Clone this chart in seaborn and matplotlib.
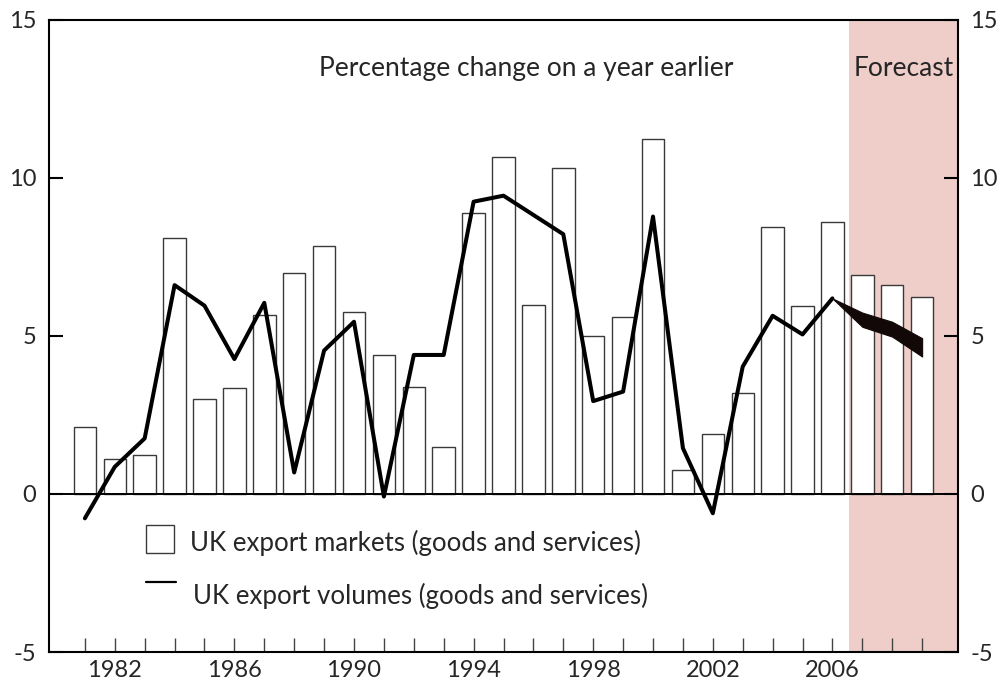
import matplotlib
matplotlib.use("Agg")
import matplotlib.pyplot as plt
from matplotlib.patches import Rectangle
import seaborn as sns
import pandas as pd

# data
years = list(range(1981, 2010))
markets = [2.13, 1.11, 1.22, 8.09, 3.02, 3.37, 5.66, 6.99, 7.86, 5.76,
           4.40, 3.38, 1.50, 8.88, 10.67, 5.97, 10.33, 5.00, 5.61, 11.22,
           0.76, 1.89, 3.19, 8.44, 5.95, 8.60, 6.93, 6.61, 6.24]
vol_years = list(range(1981, 2007))
volumes = [-0.77, 0.86, 1.76, 6.61, 5.96, 4.27, 6.05, 0.68, 4.54, 5.45,
           -0.08, 4.40, 4.40, 9.25, 9.44, 8.83, 8.22, 2.94, 3.24, 8.78,
           1.45, -0.61, 4.03, 5.64, 5.05, 6.19]
fc_years = [2006, 2007, 2008, 2009]
fc_upper = [6.19, 5.74, 5.45, 4.93]
fc_lower = [6.19, 5.29, 4.98, 4.35]
label_years = [1982, 1986, 1990, 1994, 1998, 2002, 2006]

df_bar = pd.DataFrame({"year": years, "markets": markets})
df_line = pd.DataFrame({"year": vol_years, "volumes": volumes})

sns.set_theme(style="white")
plt.rcParams["font.family"] = ["Lato", "DejaVu Sans"]

fig = plt.figure(figsize=(10.06, 6.89), dpi=100)
ax = fig.add_axes([0.0487, 0.0537, 0.9036, 0.9173])

# forecast shading
ax.axvspan(2006.55, 2010.2, color="#efcdc9", lw=0, zorder=0)

sns.barplot(data=df_bar, x="year", y="markets", native_scale=True, width=0.75,
            color="white", edgecolor="#3a3a3a", linewidth=1.0, ax=ax, zorder=2)
ax.axhline(0, color="black", lw=1.4, zorder=3)
sns.lineplot(data=df_line, x="year", y="volumes", color="black", lw=2.9,
             ax=ax, zorder=4)
ax.fill_between(fc_years, fc_lower, fc_upper, color="#120808", lw=0.8,
                edgecolor="#120808", zorder=4)

ax.set_xlim(1979.8, 2010.2)
ax.set_ylim(-5, 15)
ax.set_xlabel("")
ax.set_ylabel("")

for s in ax.spines.values():
    s.set_color("black")
    s.set_linewidth(1.5)
    s.set_visible(True)

ax.set_yticks([-5, 0, 5, 10, 15])
ax.set_yticklabels(["-5", "0", "5", "10", "15"])
ax.tick_params(axis="y", direction="in", length=10, width=1.5, color="black",
               left=True, right=True, labelleft=True, labelright=True,
               labelsize=17, pad=9)
ax.set_xticks(years, minor=True)
ax.set_xticks(label_years)
ax.set_xticklabels([str(y) for y in label_years])
ax.tick_params(axis="x", which="both", direction="in", length=10, width=1,
               color="#444444", bottom=True, top=False, labelsize=17, pad=6)

ax.text(1995.76, 13.48, "Percentage change on a year earlier", ha="center",
        va="center", fontsize=19)
ax.text(2008.37, 13.48, "Forecast", ha="center", va="center", fontsize=19)

# legend drawn by hand
ax.add_patch(Rectangle((0.107, 0.157), 0.031, 0.044, transform=ax.transAxes,
                       facecolor="white", edgecolor="#3a3a3a", lw=1.0,
                       zorder=5))
ax.plot([0.107, 0.140], [0.110, 0.110], transform=ax.transAxes,
        color="black", lw=1.6, zorder=5)
ax.text(0.155, 0.173, "UK export markets (goods and services)",
        transform=ax.transAxes, ha="left", va="center", fontsize=18.6)
ax.text(0.158, 0.089, "UK export volumes (goods and services)",
        transform=ax.transAxes, ha="left", va="center", fontsize=18.6)

fig.savefig("out.png", dpi=100)
